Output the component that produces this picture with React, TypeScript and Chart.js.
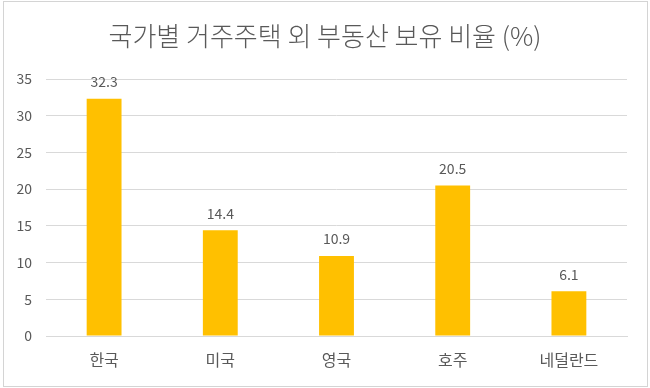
import React, { useEffect, useRef } from "react";
import { Chart, registerables } from "chart.js";

Chart.register(...registerables);

const categories = ["한국", "미국", "영국", "호주", "네덜란드"];
const values = [32.3, 14.4, 10.9, 20.5, 6.1];
const yTicks = [0, 5, 10, 15, 20, 25, 30, 35];
const titleText = "국가별 거주주택 외 부동산 보유 비율 (%)";

const FONT = "'Noto Sans CJK KR', 'Noto Sans', sans-serif";
const TEXT = "#595959";
const GRID = "#d9d9d9";
const BAR = "#FFC000";

const frame = {
  id: "frame",
  beforeDraw(chart: any) {
    const { ctx, width, height } = chart;
    ctx.save();
    ctx.fillStyle = "#ffffff";
    ctx.fillRect(0, 0, width, height);
    ctx.restore();
  },
  afterDraw(chart: any) {
    const { ctx } = chart;
    ctx.save();
    ctx.strokeStyle = "#d4d4d4";
    ctx.lineWidth = 1;
    ctx.strokeRect(3.5, 1.5, 644, 385);
    ctx.restore();
  },
};

const valueLabels = {
  id: "valueLabels",
  afterDatasetsDraw(chart: any) {
    const { ctx } = chart;
    const meta = chart.getDatasetMeta(0);
    ctx.save();
    ctx.fillStyle = TEXT;
    ctx.font = `14px ${FONT}`;
    ctx.textAlign = "center";
    ctx.textBaseline = "bottom";
    meta.data.forEach((el: any, i: number) => {
      ctx.fillText(String(values[i]), el.x, el.y - 10);
    });
    ctx.restore();
  },
};

export default function App() {
  const ref = useRef<HTMLCanvasElement | null>(null);
  useEffect(() => {
    document.body.style.margin = "0";
    if (!ref.current) return;
    const chart = new Chart(ref.current, {
      type: "bar",
      data: {
        labels: categories,
        datasets: [
          {
            data: values,
            backgroundColor: BAR,
            barPercentage: 0.3,
            categoryPercentage: 1,
          },
        ],
      },
      options: {
        animation: false,
        responsive: false,
        layout: { padding: 0 },
        plugins: {
          legend: { display: false },
          tooltip: { enabled: false },
          title: {
            display: true,
            text: titleText,
            color: TEXT,
            font: { family: FONT, size: 26, weight: "300" as any, lineHeight: 1.2 },
            padding: { top: 21, bottom: 26.8 },
          },
        },
        scales: {
          x: {
            grid: { display: false, drawTicks: false },
            border: { display: true, color: GRID, width: 1 },
            ticks: { color: TEXT, font: { family: FONT, size: 16 }, padding: 14 },
            afterFit: (s: any) => {
              s.height = 52;
            },
          },
          y: {
            min: 0,
            max: 35,
            afterBuildTicks: (s: any) => {
              s.ticks = yTicks.map((v) => ({ value: v }));
            },
            grid: { color: GRID, drawTicks: false },
            border: { display: false },
            ticks: { color: TEXT, font: { family: FONT, size: 14 }, padding: 14 },
            afterFit: (s: any) => {
              s.width = 46;
            },
          },
          yRight: {
            position: "right",
            display: true,
            grid: { display: false, drawTicks: false },
            border: { display: false },
            ticks: { display: false },
            afterFit: (s: any) => {
              s.width = 23;
            },
          },
        },
      },
      plugins: [frame, valueLabels],
    });
    return () => chart.destroy();
  }, []);
  return <canvas ref={ref} width={650} height={388} style={{ display: "block" }} />;
}
